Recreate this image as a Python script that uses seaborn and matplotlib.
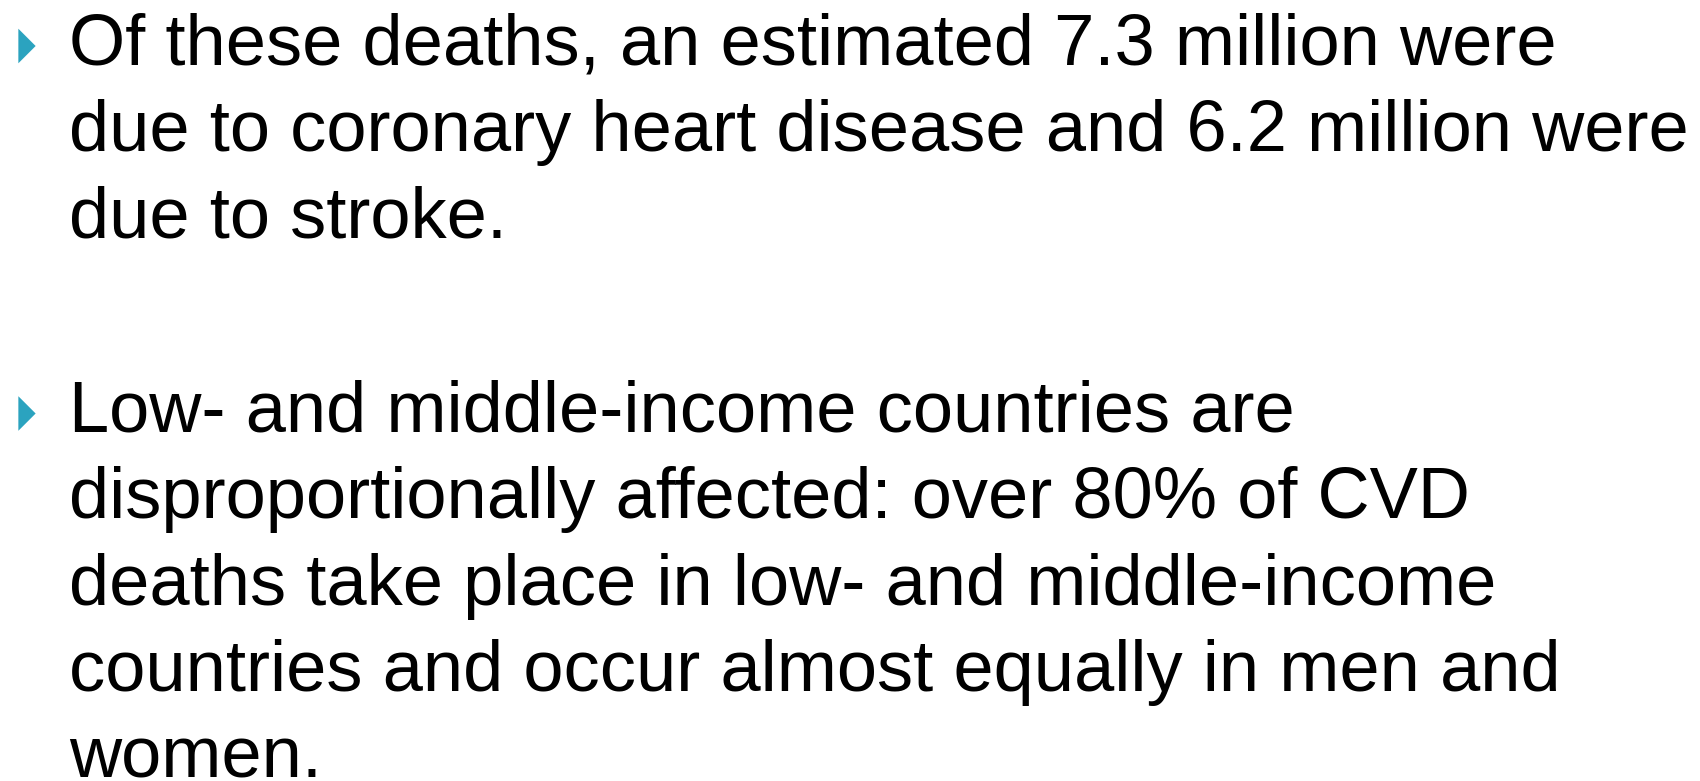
import matplotlib
matplotlib.use("Agg")
import matplotlib.pyplot as plt
import pandas as pd
import seaborn as sns

# slide text, one entry per rendered line
bullet_one = [
    "Of these deaths, an estimated 7.3 million were",
    "due to coronary heart disease and 6.2 million were",
    "due to stroke.",
]
bullet_two = [
    "Low- and middle-income countries are",
    "disproportionally affected: over 80% of CVD",
    "deaths take place in low- and middle-income",
    "countries and occur almost equally in men and",
    "women.",
]
paragraphs = [bullet_one, bullet_two]

# layout in pixels (figure is 1700x781)
first_baselines = [65, 432]
line_step = 86.3
text_x = 69
bullet_x = 27
bullet_y = [46, 413.5]

sns.set_theme(style="white")
plt.rcParams["font.family"] = ["Liberation Sans", "DejaVu Sans"]

fig = plt.figure(figsize=(17, 7.81), dpi=100)
ax = fig.add_axes([0, 0, 1, 1])
ax.set_xlim(0, 1700)
ax.set_ylim(781, 0)
ax.axis("off")

bullets = pd.DataFrame({"x": [bullet_x] * len(bullet_y), "y": bullet_y})
tri = [(-0.5, -1.0), (0.5, 0.0), (-0.5, 1.0), (-0.5, -1.0)]
sns.scatterplot(data=bullets, x="x", y="y", marker=tri, s=620,
                color="#2ba3bf", edgecolor="none", linewidth=0, ax=ax)

for lines, base in zip(paragraphs, first_baselines):
    for i, line in enumerate(lines):
        ax.text(text_x, base + i * line_step, line, fontsize=52,
                color="black", va="baseline", ha="left")

fig.savefig("out.png", dpi=100)
